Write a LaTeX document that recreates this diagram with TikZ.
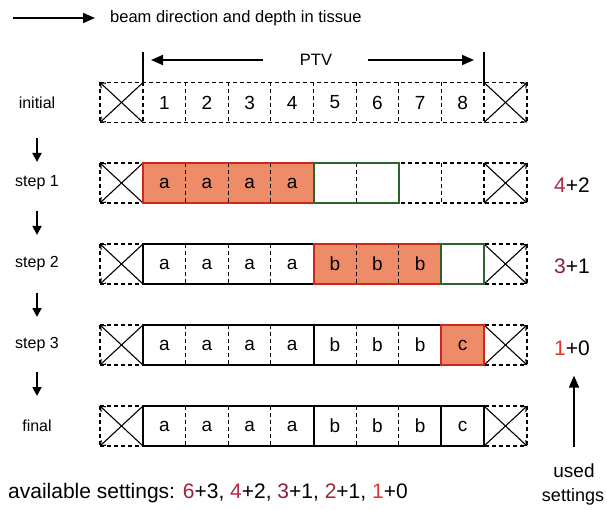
\documentclass[tikz,border=0pt]{standalone}
\usepackage{fontspec}
\setmainfont{Liberation Sans}
\usetikzlibrary{arrows.meta,calc,backgrounds}
\definecolor{fillor}{RGB}{238,140,106}
\definecolor{redb}{RGB}{205,40,30}
\definecolor{greenb}{RGB}{45,100,45}
\definecolor{csix}{RGB}{165,30,60}
\definecolor{cfour}{RGB}{180,40,70}
\definecolor{cthree}{RGB}{140,30,75}
\definecolor{ctwo}{RGB}{165,40,45}
\definecolor{cone}{RGB}{225,55,45}
\begin{document}
\begin{tikzpicture}[x=1pt,y=-1pt,
 cell/.style={minimum width=42.625pt,minimum height=40pt,inner sep=0pt,outer sep=0pt,font=\fontsize{19}{19}\selectfont},
 xbox/.style={minimum width=43pt,minimum height=40pt,inner sep=0pt,outer sep=0pt},
 dsh/.style={line width=1.1pt,dash pattern=on 4pt off 3pt},
 grp/.style={line width=2pt},
 xarr/.style={line width=1.1pt,-{Straight Barb[length=4pt,width=7pt]}},
 bigarr/.style={line width=1.8pt,-{Triangle[length=12pt,width=10pt]}},
 downarr/.style={line width=1.8pt,-{Triangle[length=9pt,width=9pt]}},
 lab/.style={inner sep=0pt,font=\fontsize{16}{16}\selectfont},
 rlab/.style={inner sep=0pt,font=\fontsize{21}{21}\selectfont},
]
\useasboundingbox (0,0) rectangle (607,510);

% legend
\coordinate (lg0) at (13,18);
\node[anchor=west,inner sep=0pt,font=\fontsize{16.5}{16.5}\selectfont] (legend) at (110,18) {beam direction and depth in tissue};
\draw[bigarr,shorten >=15pt] (lg0) -- (legend.west);

% rows of cells
\foreach \r/\yy in {0/102.5,1/183,2/264,3/345,4/426}{
  \node[xbox] (r\r L) at (121.5,\yy) {};
  \node[xbox] (r\r R) at (505.5,\yy) {};
}
\foreach \t [count=\i] in {1,2,3,4,5,6,7,8}
  \node[cell] (r0c\i) at ({143+(\i-0.5)*42.625},102.5) {\t};
\foreach \t [count=\i] in {a,a,a,a,{},{},{},{}}
  \node[cell] (r1c\i) at ({143+(\i-0.5)*42.625},183) {\t};
\foreach \t [count=\i] in {a,a,a,a,b,b,b,{}}
  \node[cell] (r2c\i) at ({143+(\i-0.5)*42.625},264) {\t};
\foreach \t [count=\i] in {a,a,a,a,b,b,b,c}
  \node[cell] (r3c\i) at ({143+(\i-0.5)*42.625},345) {\t};
\foreach \t [count=\i] in {a,a,a,a,b,b,b,c}
  \node[cell] (r4c\i) at ({143+(\i-0.5)*42.625},426) {\t};

% fills
\begin{pgfonlayer}{background}
  \fill[white] (0,0) rectangle (607,510);
  \fill[fillor] (r1c1.north west) rectangle (r1c4.south east);
  \fill[fillor] (r2c5.north west) rectangle (r2c7.south east);
  \fill[fillor] (r3c8.north west) rectangle (r3c8.south east);
\end{pgfonlayer}

% dashed grid and crossed boxes
\foreach \r in {0,...,4}{
  \draw[dsh] (r\r L.north west) -- (r\r R.north east);
  \draw[dsh] (r\r L.south west) -- (r\r R.south east);
  \draw[dsh] (r\r L.north west) -- (r\r L.south west);
  \draw[dsh] (r\r R.north west) -- (r\r R.south west);
  \draw[dsh] (r\r R.north east) -- (r\r R.south east);
  \foreach \i in {1,...,8}
    \draw[dsh] (r\r c\i.north west) -- (r\r c\i.south west);
  \draw[xarr] (r\r L.north east) -- (r\r L.south west);
  \draw[xarr] (r\r L.south east) -- (r\r L.north west);
  \draw[xarr] (r\r R.north west) -- (r\r R.south east);
  \draw[xarr] (r\r R.south west) -- (r\r R.north east);
}

% solid groups
\draw[grp,redb] (r1c1.north west) rectangle (r1c4.south east);
\draw[grp,greenb] (r1c5.north west) rectangle (r1c6.south east);
\draw[grp] (r2c1.north west) rectangle (r2c4.south east);
\draw[grp,redb] (r2c5.north west) rectangle (r2c7.south east);
\draw[grp,greenb] (r2c8.north west) rectangle (r2c8.south east);
\draw[grp] (r3c1.north west) rectangle (r3c4.south east);
\draw[grp] (r3c5.north west) rectangle (r3c7.south east);
\draw[grp,redb] (r3c8.north west) rectangle (r3c8.south east);
\draw[grp] (r4c1.north west) rectangle (r4c4.south east);
\draw[grp] (r4c5.north west) rectangle (r4c7.south east);
\draw[grp] (r4c8.north west) rectangle (r4c8.south east);

% PTV
\node[inner sep=0pt,font=\fontsize{16.5}{16.5}\selectfont] (ptv) at (316,60) {PTV};
\draw[line width=1.3pt] (r0L.north east) -- ++(0,-30);
\draw[line width=1.3pt] (r0R.north west) -- ++(0,-30);
\draw[bigarr,shorten <=37pt,shorten >=8pt] (ptv.west) -- (r0L.north east |- ptv.west);
\draw[bigarr,shorten <=36pt,shorten >=10pt] (ptv.east) -- (r0R.north west |- ptv.east);

% left labels
\node[lab] (lab0) at (37,102.5) {initial};
\node[lab] (lab1) at (37,183) {step 1};
\node[lab] (lab2) at (37,264) {step 2};
\node[lab] (lab3) at (37,345) {step 3};
\node[lab] (lab4) at (37,426) {final};
\coordinate (m0) at (37,150);
\coordinate (m1) at (37,223);
\coordinate (m2) at (37,305);
\coordinate (m3) at (37,384);
\foreach \k in {0,...,3}
  \draw[downarr] ([yshift=12pt]m\k) -- ([yshift=-12pt]m\k);

% right labels
\node[rlab] (set1) at (572,185) {\textcolor{cfour}{4}+2};
\node[rlab] (set2) at (572,266) {\textcolor{cthree}{3}+1};
\node[rlab] (set3) at (572,348) {\textcolor{cone}{1}+0};
\node[inner sep=0pt,font=\fontsize{19}{19}\selectfont] (used) at (574,471) {used};
\node[inner sep=0pt,font=\fontsize{18}{18}\selectfont] (settings) at (573,497) {settings};
\draw[bigarr,shorten <=17pt,shorten >=20pt] (used.north) -- (used.north |- set3.south);

% bottom
\node[anchor=west,inner sep=0pt,font=\fontsize{21}{21}\selectfont] (avail) at (8,493) {available settings: \textcolor{csix}{6}+3, \textcolor{cfour}{4}+2, \textcolor{cthree}{3}+1, \textcolor{ctwo}{2}+1, \textcolor{cone}{1}+0};
\end{tikzpicture}
\end{document}
